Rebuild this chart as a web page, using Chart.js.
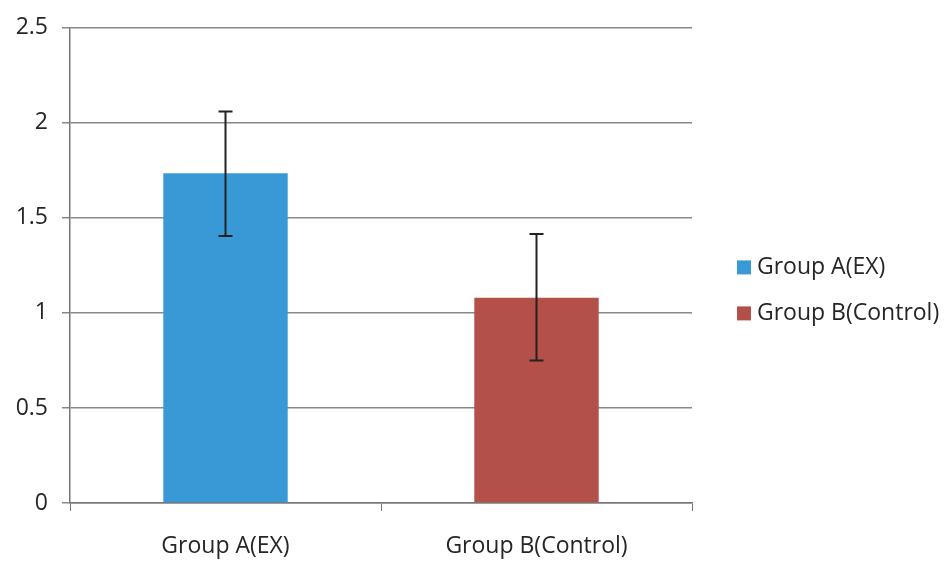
<!DOCTYPE html>
<html>
<head>
<meta charset="utf-8">
<script src="https://cdn.jsdelivr.net/npm/chart.js@4"></script>
<style>
  html, body { margin: 0; padding: 0; background: #fff; }
  #wrap { width: 951px; height: 561px; }
</style>
</head>
<body>
<div id="wrap"><canvas id="barChart" width="951" height="561"></canvas></div>
<script>
// values
const categories = ['Group A(EX)', 'Group B(Control)'];
const means = [1.735, 1.08];
const errLow = [1.405, 0.75];
const errHigh = [2.06, 1.415];
const barColors = ['#3899d6', '#b3504a'];

const FONT = 'Open Sans';
const TEXT = '#262626';

// error bars drawn on top of the bars
const errorBars = {
    id: 'errorBars',
    afterDatasetsDraw(chart) {
        const { ctx, scales: { x, y } } = chart;
        ctx.save();
        ctx.strokeStyle = '#222';
        ctx.lineWidth = 2;
        categories.forEach((c, i) => {
            const px = x.getPixelForValue(i);
            const top = y.getPixelForValue(errHigh[i]);
            const bot = y.getPixelForValue(errLow[i]);
            ctx.beginPath();
            ctx.moveTo(px, top); ctx.lineTo(px, bot);
            ctx.moveTo(px - 7, top); ctx.lineTo(px + 7, top);
            ctx.moveTo(px - 7, bot); ctx.lineTo(px + 7, bot);
            ctx.stroke();
        });
        ctx.restore();
    }
};

// legend to the right of the plot, like the original
const sideLegend = {
    id: 'sideLegend',
    afterDraw(chart) {
        const { ctx, chartArea } = chart;
        const left = chartArea.right + 45;
        const midY = (chartArea.top + chartArea.bottom) / 2 + 25;
        ctx.save();
        ctx.font = '23px "' + FONT + '"';
        ctx.textBaseline = 'middle';
        categories.forEach((c, i) => {
            const cy = midY + (i - 0.5) * 46;
            ctx.fillStyle = barColors[i];
            ctx.fillRect(left, cy - 7, 14, 14);
            ctx.fillStyle = TEXT;
            ctx.fillText(c, left + 20, cy);
        });
        ctx.restore();
    }
};

const ctx = document.getElementById('barChart').getContext('2d');
new Chart(ctx, {
    type: 'bar',
    data: {
        labels: categories,
        datasets: [{
            data: means,
            backgroundColor: barColors,
            barPercentage: 0.4,
            categoryPercentage: 1.0,
        }],
    },
    options: {
        responsive: false,
        animation: false,
        layout: { padding: { top: 19, left: 0, right: 259, bottom: 0 } },
        plugins: {
            tooltip: { enabled: false },
            legend: { display: false },
        },
        scales: {
            x: {
                grid: { display: true, drawOnChartArea: false, color: '#777', tickLength: 8, offset: true },
                border: { color: '#777', width: 1.5 },
                ticks: { font: { family: FONT, size: 23 }, color: TEXT, padding: 22 },
                afterFit: (scale) => { scale.height = 58; },
            },
            y: {
                min: 0,
                max: 2.5,
                ticks: {
                    stepSize: 0.5,
                    font: { family: FONT, size: 23 },
                    color: TEXT,
                    padding: 14,
                    callback: (v) => String(+v.toFixed(1)),
                },
                grid: { color: '#888', lineWidth: 1.5, tickLength: 8 },
                border: { color: '#777', width: 1.5 },
                afterFit: (scale) => { scale.width = 70; },
            },
        },
    },
    plugins: [errorBars, sideLegend],
});
</script>
</body>
</html>
